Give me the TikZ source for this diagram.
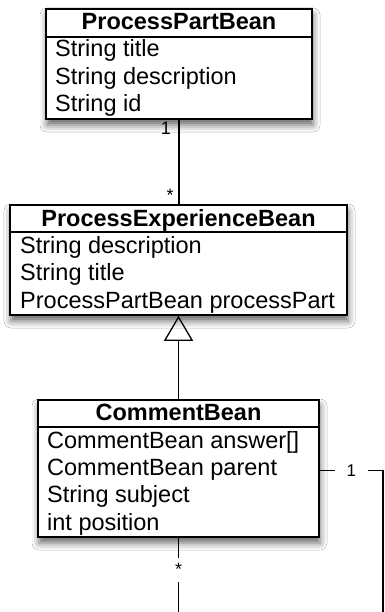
\documentclass[tikz,border=0pt]{standalone}
\usepackage{fontspec}
\setmainfont{Liberation Sans}
\usetikzlibrary{arrows.meta,shadows.blur}

\begin{document}
\begin{tikzpicture}[x=1pt,y=-1pt,
  classbox/.style={draw=black, line width=1.6pt, fill=white, inner sep=0pt,
    blur shadow={shadow xshift=1pt, shadow yshift=-6pt, shadow blur radius=7pt, shadow opacity=60}},
  divider/.style={line width=1.6pt},
  classname/.style={anchor=base, font=\fontsize{23.5}{27}\selectfont\bfseries, inner sep=0pt},
  attr/.style={anchor=base west, font=\fontsize{23.5}{27}\selectfont, inner sep=0pt},
  assoc/.style={line width=1.3pt},
  mult/.style={font=\fontsize{18}{20}\selectfont, inner sep=0pt},
]
\useasboundingbox[fill=white] (0,0) rectangle (384,612);

% ProcessPartBean
\node[classbox, minimum width=266pt, minimum height=110pt] (ppb) at (179,64) {};
\draw[divider] (ppb.west |- 0,37) -- (ppb.east |- 0,37);
\node[classname] (ppbT) at (179,30) {ProcessPartBean};
\node[attr] (ppbA1) at (55,57) {String title};
\node[attr] (ppbA2) at (55,84.4) {String description};
\node[attr] (ppbA3) at (55,111.8) {String id};

% ProcessExperienceBean
\node[classbox, minimum width=337pt, minimum height=110pt] (peb) at (178.5,260) {};
\draw[divider] (peb.west |- 0,232) -- (peb.east |- 0,232);
\node[classname] (pebT) at (178.5,226) {ProcessExperienceBean};
\node[attr] (pebA1) at (20,253.3) {String description};
\node[attr] (pebA2) at (20,280.7) {String title};
\node[attr] (pebA3) at (20,308.1) {ProcessPartBean processPart};

% CommentBean
\node[classbox, minimum width=281pt, minimum height=137pt] (cb) at (178.5,468.5) {};
\draw[divider] (cb.west |- 0,427) -- (cb.east |- 0,427);
\node[classname] (cbT) at (178.5,420.5) {CommentBean};
\node[attr] (cbA1) at (47,448.3) {CommentBean answer[]};
\node[attr] (cbA2) at (47,475.6) {CommentBean parent};
\node[attr] (cbA3) at (47,502.9) {String subject};
\node[attr] (cbA4) at (47,530.2) {int position};

% association ProcessPartBean 1 -- * ProcessExperienceBean
\draw[assoc] (ppb.south) -- (ppb.south |- peb.north);
\node[mult] (m1) at (166,128.5) {1};
\node[mult, anchor=base] (m2) at (170,201) {*};

% generalization CommentBean -> ProcessExperienceBean
\draw[assoc, -{Triangle[open, length=25pt, width=29pt, line width=1.3pt]}] (cb.north) -- (peb.south);

% self association of CommentBean
\coordinate (selfA) at ([yshift=-2pt]cb.east);
\coordinate (selfC) at (383,470.5);
\coordinate (selfD) at (383,612);
\draw[assoc] (selfA) -- node[mult, font=\fontsize{17}{19}\selectfont, fill=white, inner xsep=12pt, inner ysep=2pt] (m3) {1} (selfC) -- (selfD);

\coordinate (gapT) at (178.5,558);
\coordinate (gapB) at (178.5,582);
\coordinate (selfB) at (178.5,612);
\draw[assoc] (cb.south) -- (gapT);
\draw[assoc] (gapB) -- (selfB);
\node[mult, anchor=base] (m4) at (178.5,575) {*};
\end{tikzpicture}
\end{document}
